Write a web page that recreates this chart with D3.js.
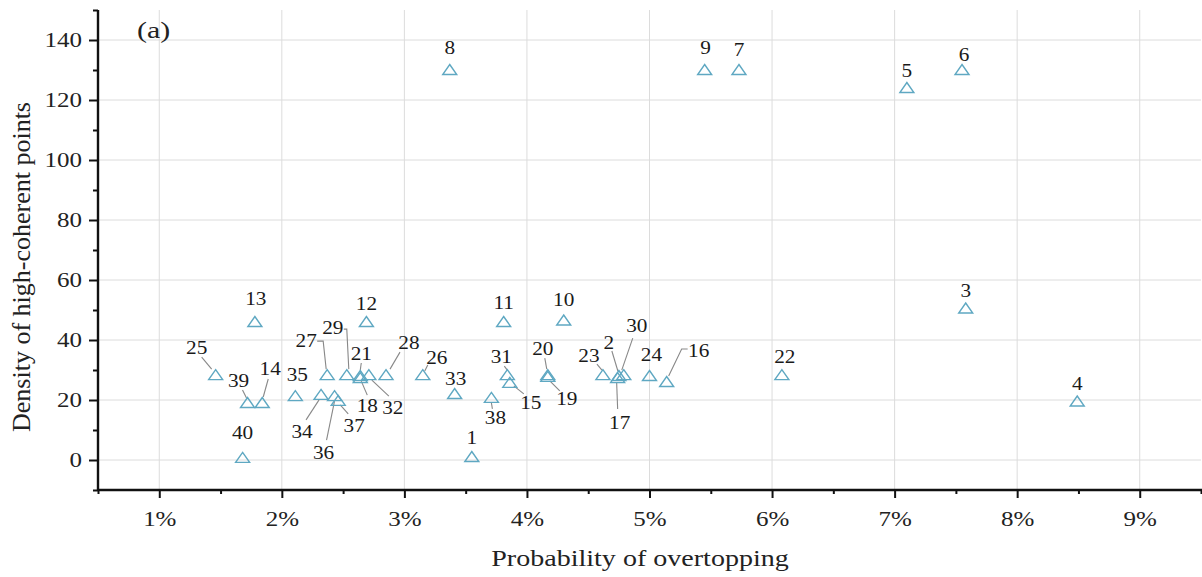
<!DOCTYPE html>
<html><head><meta charset="utf-8">
<script src="https://cdn.jsdelivr.net/npm/d3@7"></script>
<style>body{margin:0;background:#fff}svg{display:block}text{font-family:"Liberation Serif","Times New Roman",serif}</style>
</head><body><svg id="c" width="1202" height="577"></svg>
<script>
// ---- data ----
const ids = [1,2,3,4,5,6,7,8,9,10,11,12,13,14,15,16,17,18,19,20,21,22,23,24,25,26,27,28,29,30,31,32,33,34,35,36,37,38,39,40];
const overtopping = [3.55,4.75,7.58,8.49,7.10,7.55,5.73,3.37,5.45,4.30,3.81,2.69,1.78,1.84,3.86,5.14,4.74,2.64,4.17,4.17,2.64,6.08,4.62,5.00,1.46,3.15,2.37,2.85,2.53,4.79,3.84,2.71,3.41,2.32,2.11,2.43,2.46,3.71,1.72,1.68];
const density = [1,28,50.5,19.5,124,130,130,130,130,46.5,46,46,46,19,25.7,26,27.3,27.3,27.7,28.3,28,28.3,28.3,28,28.3,28.3,28.3,28.3,28.3,28.3,28.3,28.3,22,21.7,21.3,21.3,19.7,20.7,19,0.7];
const xTickValues = [1,2,3,4,5,6,7,8,9];
const xTickLabels = ["1%","2%","3%","4%","5%","6%","7%","8%","9%"];
const yTickValues = [0,20,40,60,80,100,120,140];
const yTickLabels = ["0","20","40","60","80","100","120","140"];
const xTitle = "Probability of overtopping";
const yTitle = "Density of high-coherent points";
const panelTag = "(a)";

// ---- label layout (pixel offsets relative to marker) ----
const labelOffset = {
 1:[0,-20],2:[-10,-34],3:[0,-18],4:[0,-18],5:[0,-18],6:[2,-16],7:[0,-21],8:[0,-23],9:[1,-23],10:[0,-21],
 11:[0,-20],12:[0,-19],13:[1,-24],14:[8,-35],15:[21,19],16:[32,-32],17:[2,44],18:[7,27],19:[19,21],20:[-5,-27],
 21:[1,-23],22:[3,-19],23:[-14,-20],24:[2,-22],25:[-19,-28],26:[14,-18],27:[-21,-35],28:[23,-33],29:[-14,-48],30:[13,-50],
 31:[-6,-19],32:[24,32],33:[1,-16],34:[-19,36],35:[2,-22],36:[-11,56],37:[16,24],38:[4,19],39:[-9,-23],40:[0,-26]};
const leaders = {
 2:[[-7,-25],[-1,-5]],14:[[6,-24],[1,-6]],15:[[4,3],[14,11]],16:[[2,-6],[15,-33],[21,-33]],17:[[0,31],[-1,4]],
 18:[[1,3],[7,17]],19:[[2,4],[12,14]],20:[[-3,-17],[-1,-6]],21:[[1,-13],[0,-6]],23:[[-6,-11],[-1,-5]],
 25:[[-14,-18],[-4,-6]],26:[[5,-10],[2,-4]],27:[[-10,-34],[-4,-34],[-1,-6]],28:[[14,-23],[4,-6]],
 29:[[-3,-46],[0,-46],[2,-6]],30:[[9,-37],[-2,-5]],31:[[-3,-9],[0,-5]],32:[[3,5],[20,21]],
 34:[[-15,25],[-2,5]],36:[[-8,44],[0,5]],37:[[10,13],[2,4]],38:[[1,11],[0,5]],39:[[-5,-13],[-1,-5]]};

const svg = d3.select("#c");
const L = 98, R = 1201, T = 10, B = 490;
const x = d3.scaleLinear().domain([0.5,9.5]).range([L,R]);
const y = d3.scaleLinear().domain([-10,150]).range([B,T]);

// grid
const g = svg.append("g");
g.selectAll("line.gx").data(xTickValues).join("line")
 .attr("x1",d=>x(d)).attr("x2",d=>x(d)).attr("y1",T).attr("y2",B)
 .attr("stroke","#dcdcdc").attr("stroke-width",1);
g.selectAll("line.gy").data(yTickValues).join("line")
 .attr("x1",L).attr("x2",R).attr("y1",d=>y(d)).attr("y2",d=>y(d))
 .attr("stroke","#dcdcdc").attr("stroke-width",1);

// axes
const xAxis = d3.axisBottom(x).tickValues(xTickValues).tickFormat((d,i)=>xTickLabels[i]).tickSize(8).tickPadding(14);
const xMinor = d3.axisBottom(x).tickValues(d3.range(0.5,9.6,1)).tickFormat("").tickSize(4);
const yAxis = d3.axisLeft(y).tickValues(yTickValues).tickFormat((d,i)=>yTickLabels[i]).tickSize(9).tickPadding(7);
const yMinor = d3.axisLeft(y).tickValues(d3.range(-10,151,20)).tickFormat("").tickSize(5);
function style(sel){
  sel.select(".domain").attr("stroke","#111").attr("stroke-width",2.4);
  sel.selectAll(".tick line").attr("stroke","#111").attr("stroke-width",2);
  sel.selectAll(".tick text").attr("fill","#222").style("font-size","20px").style("font-family","Liberation Serif");
}
const SX = 1.25;
svg.append("g").attr("transform",`translate(0,${B})`).call(xMinor).call(style).select(".domain").remove();
svg.append("g").attr("transform",`translate(${L},0)`).call(yMinor).call(style).select(".domain").remove();
const gx = svg.append("g").attr("transform",`translate(0,${B})`).call(xAxis).call(style);
gx.select(".domain").attr("d",`M${L},0H${R+1}`);
gx.selectAll(".tick text").attr("transform",`scale(${SX},1)`);
const gy = svg.append("g").attr("transform",`translate(${L},0)`).call(yAxis).call(style);
gy.select(".domain").attr("d",`M0,${B}V${T}`);
gy.selectAll(".tick text").attr("x",-16/SX).attr("transform",`scale(${SX},1)`);

// titles
svg.append("text").attr("transform",`translate(640,566) scale(1.22,1)`).attr("text-anchor","middle")
 .style("font-size","23px").attr("fill","#222").text(xTitle);
svg.append("text").attr("transform",`translate(30,${(T+B)/2+17}) rotate(-90)`).attr("text-anchor","middle")
 .style("font-size","26px").attr("fill","#222").text(yTitle);
svg.append("text").attr("transform","translate(137,38) scale(1.25,1)").style("font-size","24px").attr("fill","#222").text(panelTag);

// data
const pts = ids.map((id,i)=>({id, px:x(overtopping[i]), py:y(density[i])}));

// leaders
const line = d3.line();
svg.append("g").selectAll("path").data(pts.filter(d=>leaders[d.id])).join("path")
 .attr("d",d=>line(leaders[d.id].map(p=>[d.px+p[0],d.py+p[1]])))
 .attr("fill","none").attr("stroke","#888").attr("stroke-width",1.1);

// markers
const tri = "M0,-5.5L7,4.5L-7,4.5Z";
svg.append("g").selectAll("path").data(pts).join("path")
 .attr("d",tri).attr("transform",d=>`translate(${d.px},${d.py})`)
 .attr("fill","none").attr("stroke","#5fa8c2").attr("stroke-width",1.4);

// labels
svg.append("g").selectAll("text").data(pts).join("text")
 .attr("transform",d=>`translate(${d.px+labelOffset[d.id][0]},${d.py+labelOffset[d.id][1]}) scale(1.12,1)`)
 .attr("dy","0.35em").attr("text-anchor","middle")
 .style("font-size","19px").attr("fill","#1a1a1a").text(d=>d.id);
</script></body></html>
